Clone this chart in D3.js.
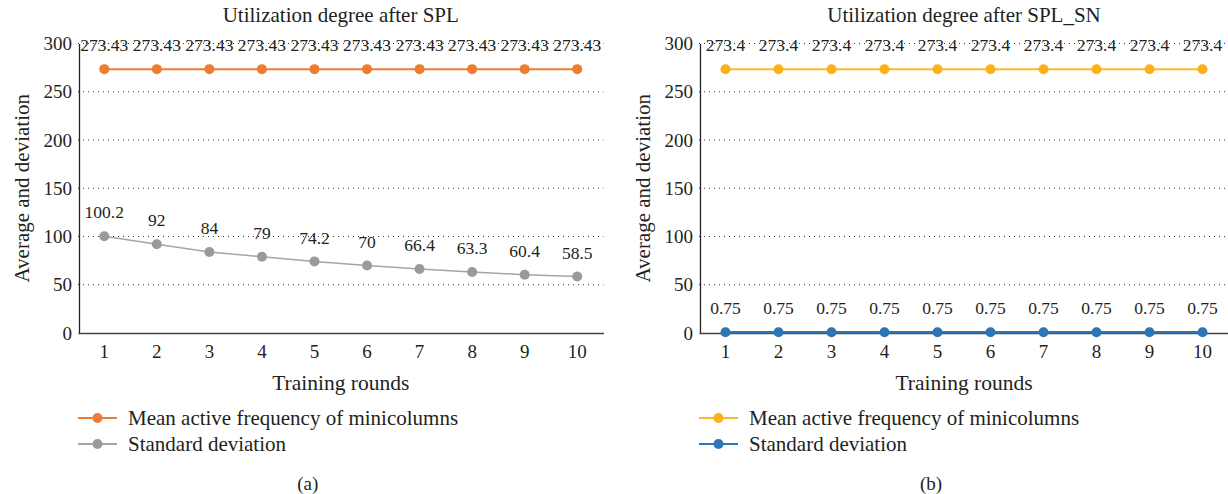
<!DOCTYPE html>
<html>
<head>
<meta charset="utf-8">
<script src="https://cdn.jsdelivr.net/npm/d3@7"></script>
<style>
  body { margin: 0; background: #fff; }
</style>
</head>
<body>
<div class="container"></div>
<script>
const rounds = [1, 2, 3, 4, 5, 6, 7, 8, 9, 10];
const meanSPL = [273.43, 273.43, 273.43, 273.43, 273.43, 273.43, 273.43, 273.43, 273.43, 273.43];
const stdSPL = [100.2, 92, 84, 79, 74.2, 70, 66.4, 63.3, 60.4, 58.5];
const meanSN = [273.4, 273.4, 273.4, 273.4, 273.4, 273.4, 273.4, 273.4, 273.4, 273.4];
const stdSN = [0.75, 0.75, 0.75, 0.75, 0.75, 0.75, 0.75, 0.75, 0.75, 0.75];
const yTicks = [0, 50, 100, 150, 200, 250, 300];
const seriesNames = ["Mean active frequency of minicolumns", "Standard deviation"];

const svg = d3.select(".container")
              .append("svg")
              .attr("width", 1228)
              .attr("height", 494);

const panels = [
  {title: "Utilization degree after SPL", tag: "(a)", left: 78, right: 603.5,
   series: [{vals: meanSPL, color: "#ed7d31", mark: "#ed7d31", w: 2},
            {vals: stdSPL, color: "#a5a5a5", mark: "#9a9a9a", w: 1.5}]},
  {title: "Utilization degree after SPL_SN", tag: "(b)", left: 699, right: 1229,
   series: [{vals: meanSN, color: "#fbb829", mark: "#fbb117", w: 2},
            {vals: stdSN, color: "#2e75b6", mark: "#2e75b6", w: 2.5}]}
];

const yScale = d3.scaleLinear().domain([0, 300]).range([333, 43.5]);

// serif text helper (style, so it beats the axis font attribute)
function txt(sel, size) {
  sel.style("font-family", "'Liberation Serif'")
     .style("font-size", size + "px")
     .attr("fill", "#231f20");
}

panels.forEach(p => {
  const g = svg.append("g");
  const xScale = d3.scaleBand().domain(rounds).range([p.left, p.right]);
  const cx = d => xScale(d) + xScale.bandwidth() / 2;

  // gridlines
  g.append("g")
   .selectAll("line")
   .data(yTicks.filter(t => t > 0))
   .join("line")
   .attr("x1", p.left).attr("x2", p.right)
   .attr("y1", d => yScale(d)).attr("y2", d => yScale(d))
   .attr("stroke", "#333")
   .attr("stroke-width", 1)
   .attr("stroke-dasharray", "1,4");

  // y axis
  const yAxis = d3.axisLeft(yScale).tickValues(yTicks).tickSize(0).tickPadding(7);
  const drawY = g.append("g")
                 .attr("class", "axis y-axis")
                 .attr("transform", `translate(${p.left + 1},0)`)
                 .call(yAxis);
  drawY.select(".domain").attr("stroke", "#222").attr("stroke-width", 1.3);
  drawY.selectAll("text").call(txt, 19);

  // x axis
  const xAxis = d3.axisBottom(xScale).tickSize(0).tickPadding(12);
  const drawX = g.append("g")
                 .attr("class", "axis x-axis")
                 .attr("transform", `translate(0,${yScale(0)})`)
                 .call(xAxis);
  drawX.select(".domain").attr("stroke", "#444").attr("stroke-width", 1.3);
  drawX.selectAll("text").call(txt, 19);

  // lines, points, labels
  p.series.forEach(s => {
    const data = rounds.map((r, i) => ({r: r, v: s.vals[i]}));
    const line = d3.line()
                   .x(d => cx(d.r))
                   .y(d => yScale(d.v));
    g.append("path")
     .datum(data)
     .attr("fill", "none")
     .attr("stroke", s.color)
     .attr("stroke-width", s.w)
     .attr("d", line);
    g.selectAll(null)
     .data(data)
     .join("circle")
     .attr("cx", d => cx(d.r))
     .attr("cy", d => yScale(d.v))
     .attr("r", 5)
     .attr("fill", s.mark);
    g.selectAll(null)
     .data(data)
     .join("text")
     .attr("x", d => cx(d.r))
     .attr("y", d => yScale(d.v) - 24)
     .attr("dy", "0.35em")
     .attr("text-anchor", "middle")
     .call(txt, 17.5)
     .text(d => d.v);
  });

  const mid = (p.left + p.right) / 2;
  g.append("text")
   .attr("x", mid).attr("y", 22)
   .attr("text-anchor", "middle")
   .call(txt, 21)
   .text(p.title);

  g.append("text")
   .attr("x", mid).attr("y", 390)
   .attr("text-anchor", "middle")
   .call(txt, 21.5)
   .text("Training rounds");

  g.append("text")
   .attr("transform", `translate(${p.left - 56},${yScale(150)}) rotate(-90)`)
   .attr("dy", "0.35em")
   .attr("text-anchor", "middle")
   .call(txt, 21)
   .text("Average and deviation");

  // legend
  const leg = g.append("g")
               .selectAll("g")
               .data(p.series)
               .join("g")
               .attr("transform", (d, i) => `translate(${p.left},${418 + i * 26})`);
  leg.append("line")
     .attr("x1", 0).attr("x2", 39)
     .attr("stroke", d => d.color)
     .attr("stroke-width", 2);
  leg.append("circle")
     .attr("cx", 19.5).attr("r", 5)
     .attr("fill", d => d.mark);
  leg.append("text")
     .attr("x", 50)
     .attr("dy", "0.35em")
     .call(txt, 21)
     .text((d, i) => seriesNames[i]);

  g.append("text")
   .attr("x", mid - 33).attr("y", 483)
   .attr("dy", "0.35em")
   .attr("text-anchor", "middle")
   .call(txt, 19)
   .text(p.tag);
});
</script>
</body>
</html>
